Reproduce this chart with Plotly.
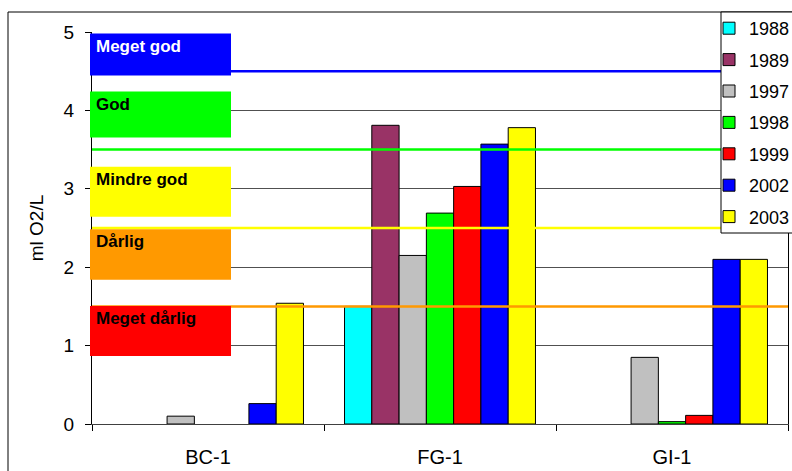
import plotly.graph_objects as go

# ---- data ----
stations = ["BC-1", "FG-1", "GI-1"]
years = ["1988", "1989", "1997", "1998", "1999", "2002", "2003"]
v1988 = [None, 1.50, None]
v1989 = [None, 3.81, None]
v1997 = [0.10, 2.15, 0.85]
v1998 = [None, 2.69, 0.03]
v1999 = [None, 3.03, 0.11]
v2002 = [0.26, 3.57, 2.10]
v2003 = [1.54, 3.78, 2.10]
series = [v1988, v1989, v1997, v1998, v1999, v2002, v2003]
bar_colors = ["#00FFFF", "#993366", "#C0C0C0", "#00FF00", "#FF0000", "#0000FF", "#FFFF00"]

class_names = ["Meget god", "God", "Mindre god", "Dårlig", "Meget dårlig"]
class_limits = [4.5, 3.5, 2.5, 1.5]
limit_colors = ["#0000FF", "#00FF00", "#FFFF00", "#FF9900"]
class_colors = ["#0000FF", "#00FF00", "#FFFF00", "#FF9900", "#FF0000"]
class_text_colors = ["white", "black", "black", "black", "black"]

y_ticks = [0, 1, 2, 3, 4, 5]
y_title = "ml O2/L"

FONT = "Liberation Sans, Arial, sans-serif"

# plot-area geometry in pixels
L, R, T, B = 92, 788, 32, 424
W, H = R - L, B - T


def px_x(p):
    return (p - L) / W


def px_y(p):
    return (B - p) / H


fig = go.Figure()
for yr, vals, col in zip(years, series, bar_colors):
    fig.add_trace(go.Bar(
        x=stations, y=vals, name=yr, legendgroup=yr,
        marker=dict(color=col, line=dict(color="black", width=1)),
    ))

shapes = []
# threshold lines
for lim, col in zip(class_limits, limit_colors):
    shapes.append(dict(type="line", xref="paper", yref="y", x0=0, x1=1,
                       y0=lim, y1=lim, line=dict(color=col, width=2.5), layer="above"))

# class label boxes (layout: top/bottom in y units)
box_tb = [(4.98, 4.445), (4.24, 3.655), (3.28, 2.645), (2.485, 1.84), (1.505, 0.868)]
annotations = []
for name, (t, b), col, tcol in zip(class_names, box_tb, class_colors, class_text_colors):
    shapes.append(dict(type="rect", xref="paper", yref="y", x0=px_x(90), x1=px_x(231), y0=b, y1=t,
                       fillcolor=col, line=dict(width=0), layer="above"))
    annotations.append(dict(text="<b>%s</b>" % name, xref="paper", yref="y",
                            x=px_x(94), y=t, xanchor="left", yanchor="top",
                            yshift=-1, showarrow=False,
                            font=dict(family=FONT, size=17, color=tcol)))

# legend box
shapes.append(dict(type="rect", xref="paper", yref="paper",
                   x0=px_x(721), x1=px_x(810), y0=px_y(233), y1=px_y(12),
                   fillcolor="white", line=dict(color="black", width=1), layer="above"))

# outer chart frame
shapes.append(dict(type="rect", xref="paper", yref="paper",
                   x0=px_x(8), x1=px_x(820), y0=px_y(520), y1=px_y(12),
                   line=dict(color="black", width=1), fillcolor="rgba(0,0,0,0)", layer="below"))

fig.update_layout(
    width=792, height=471,
    margin=dict(l=L, r=792 - R, t=T, b=471 - B, autoexpand=False),
    paper_bgcolor="white", plot_bgcolor="white",
    barmode="group", bargap=0.177, bargroupgap=0,
    font=dict(family=FONT, size=18, color="black"),
    shapes=shapes, annotations=annotations,
    legend=dict(x=px_x(709), y=px_y(10), xanchor="left", yanchor="top",
                bgcolor="rgba(0,0,0,0)", borderwidth=0,
                font=dict(family=FONT, size=18, color="black"),
                tracegroupgap=5, traceorder="grouped"),
    xaxis=dict(showline=True, linecolor="#404040", linewidth=1, automargin=False,
               ticks="outside", tickson="boundaries", ticklen=6, tickcolor="black",
               tickfont=dict(family=FONT, size=20), ticklabelstandoff=15),
    yaxis=dict(range=[0, 5], tickvals=y_ticks, showgrid=True, gridcolor="#505050", gridwidth=1,
               showline=True, linecolor="black", linewidth=1, mirror=True, automargin=False,
               ticks="outside", ticklen=6, tickcolor="black",
               tickfont=dict(family=FONT, size=19), ticklabelstandoff=7,
               zeroline=False,
               title=dict(text=y_title, font=dict(family=FONT, size=19), standoff=14)),
)

fig.write_html("out.html", config={"displayModeBar": False},
               post_script="document.body.style.margin='0';document.body.style.overflow='hidden';")
